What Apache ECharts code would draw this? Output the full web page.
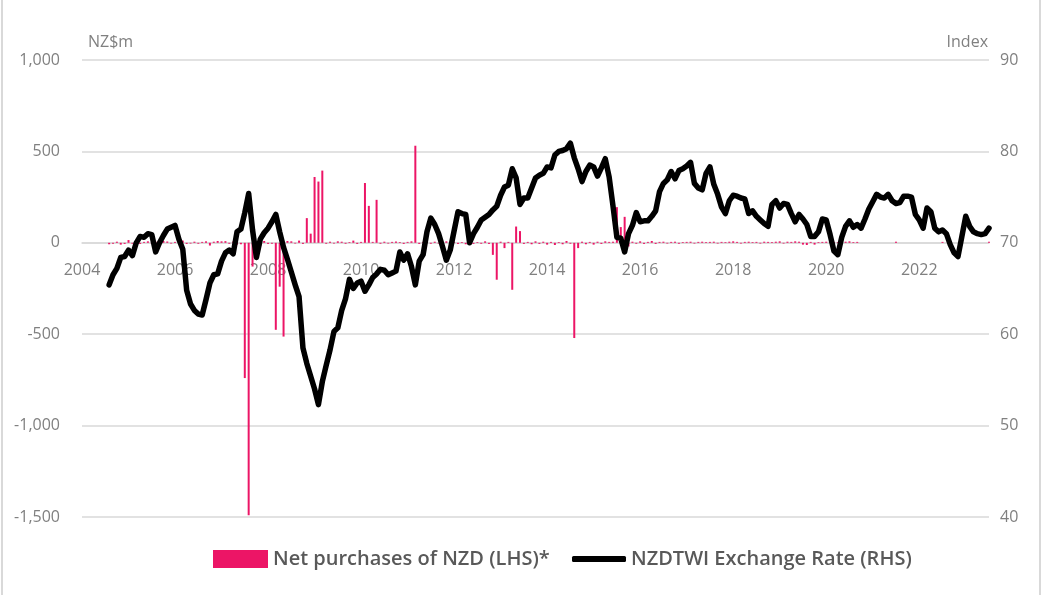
<!DOCTYPE html>
<html lang="en">
<head>
    <meta charset="UTF-8">
    <title>NZD intervention and TWI</title>
    <style>
        html, body { margin: 0; padding: 0; background: #fff; }
    </style>
</head>
<body>
<div id="chart1" style="width:1042px; height:595px;"></div>
<script type="text/javascript" src="https://cdn.jsdelivr.net/npm/echarts@6/dist/echarts.min.js"></script>
<script type="text/javascript">
    // months Jan 2004 .. Jul 2023
    var startYear = 2004;
    var months = [];
    for (var i = 0; i < 235; i++) {
        var y = startYear + Math.floor(i / 12);
        var mo = (i % 12) + 1;
        months.push(y + '-' + (mo < 10 ? '0' + mo : mo));
    }

    // net purchases of NZD, NZ$m (LHS)
    var netPurchases = [
        null, null, null, null, null, null, null, -8, -5, 6, -10, -6,      // 2004
        15, -5, 4, -6, 5, 8, -4, 6, -5, 10, 7, -4,                        // 2005
        5, 8, 12, -6, -4, 6, -5, 5, 8, -15, 6, 10,                        // 2006
        8, 9, -5, 7, -10, -8, -740, -1490, -130, -8, -18, 10,             // 2007
        -6, -5, -476, -240, -513, 10, 8, -4, 12, -6, 135, 50,             // 2008
        360, 335, 395, -5, 6, -4, 8, 6, -5, 4, 12, -6,                    // 2009
        5, 327, 202, 5, 235, -5, 6, -4, 5, 7, 4, -6,                      // 2010
        5, 8, 531, -6, 5, 4, -5, 6, -4, 5, 8, -5,                         // 2011
        6, -6, 4, -8, 5, -6, 4, -5, 8, -6, -66, -202,                     // 2012
        6, -29, 5, -257, 89, 64, -6, 5, -8, 8, -6, 6,                     // 2013
        -10, 5, -12, 4, -8, 10, -5, -521, -29, 6, -8, 5,                  // 2014
        -10, 6, -6, 8, 5, 6, 195, 86, 142, -20, 6, -5,                    // 2015
        8, -6, 5, 10, -6, 5, 6, -4, 5, 6, -5, 4,                          // 2016
        5, 6, -4, 5, 6, 4, 5, 6, -4, 5, 4, 6,                             // 2017
        8, 5, -4, 5, 6, 4, 5, -4, 6, 5, 4, 6,                             // 2018
        8, -4, 6, 5, 8, 6, -10, -12, 5, -10, 4, 5,                        // 2019
        6, 10, 5, 4, 5, 6, 8, 4, 5, 0, 0, 0,                              // 2020
        0, 0, 0, 0, 0, 0, 6, 0, 0, 0, 0, 0,                               // 2021
        0, 0, 0, 0, 0, 0, 5, 0, 0, 0, 0, 0,                               // 2022
        0, 0, 0, 0, 0, 0, 6                                               // 2023
    ];

    // NZDTWI exchange rate index (RHS)
    var twi = [
        null, null, null, null, null, null, null, 65.4, 66.5, 67.2, 68.4, 68.5,
        69.2, 68.6, 70.0, 70.7, 70.6, 71.0, 70.9, 69.0, 70.0, 70.8, 71.5, 71.7,
        71.9, 70.4, 69.3, 64.8, 63.3, 62.6, 62.2, 62.1, 63.8, 65.6, 66.5, 66.6,
        68.0, 68.9, 69.2, 68.8, 71.2, 71.5, 73.3, 75.4, 71.4, 68.4, 70.4, 71.1,
        71.6, 72.3, 73.1, 71.2, 69.5, 68.2, 66.8, 65.4, 64.1, 58.5, 56.8, 55.4,
        54.0, 52.3, 54.8, 56.6, 58.3, 60.3, 60.7, 62.6, 63.9, 66.0, 65.0, 65.6,
        65.8, 64.7, 65.4, 66.2, 66.6, 67.1, 67.0, 66.5, 66.7, 66.9, 69.0, 68.1,
        68.8, 67.4, 65.4, 68.0, 68.7, 71.2, 72.7, 72.0, 71.0, 69.6, 68.1, 69.2,
        71.3, 73.4, 73.2, 73.1, 70.0, 71.0, 71.7, 72.5, 72.8, 73.1, 73.6, 74.0,
        75.2, 76.1, 76.3, 78.1, 77.1, 74.2, 74.9, 74.9, 76.0, 77.1, 77.4, 77.6,
        78.3, 78.2, 79.6, 80.0, 80.1, 80.3, 80.9, 79.3, 78.1, 76.7, 77.8, 78.5,
        78.3, 77.3, 78.2, 79.2, 77.2, 74.0, 70.6, 70.5, 69.0, 71.0, 71.9, 73.3,
        72.3, 72.4, 72.4, 72.9, 73.5, 75.6, 76.5, 76.9, 77.8, 77.0, 77.9, 78.1,
        78.4, 78.8, 76.5, 76.0, 75.8, 77.6, 78.3, 76.4, 75.3, 73.9, 73.2, 74.6,
        75.2, 75.1, 74.9, 74.8, 73.2, 73.5, 72.9, 72.5, 72.1, 71.8, 74.2, 74.6,
        73.8, 74.3, 74.2, 73.2, 72.3, 73.1, 72.6, 72.0, 70.7, 70.7, 71.2, 72.6,
        72.5, 70.9, 69.1, 68.7, 70.6, 71.8, 72.4, 71.7, 72.0, 71.6, 72.6, 73.7,
        74.5, 75.3, 75.0, 74.9, 75.3, 74.6, 74.3, 74.4, 75.1, 75.1, 75.0, 73.1,
        72.5, 71.6, 73.8, 73.4, 71.6, 71.2, 71.4, 71.0, 69.8, 68.9, 68.5, 70.7,
        72.9, 71.8, 71.2, 71.0, 70.9, 71.0, 71.6
    ];

    var pink = '#EC1566';
    var grey = '#808080';
    var gridGrey = '#d9d9d9';
    var font = '"Open Sans", "Noto Sans", sans-serif';
    var legendText = { color: '#595959', fontSize: 20, fontWeight: 600, fontFamily: font };

    // plot area: top 60, height 457; zero of the left axis sits 1000/2500 of the way down
    var gridTop = 60, gridHeight = 457;
    var zeroOffset = -(gridHeight * 1500 / 2500);

    var option = {
        animation: false,
        textStyle: { fontFamily: font },
        grid: { left: 82, right: 53, top: gridTop, height: gridHeight },
        legend: [
            {
                left: 213,
                top: 549,
                padding: 0,
                itemWidth: 55,
                itemHeight: 18,
                textStyle: legendText,
                data: [{ name: 'Net purchases of NZD (LHS)*', icon: 'rect' }]
            },
            {
                left: 572,
                top: 549,
                padding: 0,
                itemWidth: 54,
                itemHeight: 6,
                textStyle: legendText,
                data: [{ name: 'NZDTWI Exchange Rate (RHS)', icon: 'roundRect' }]
            }
        ],
        graphic: [
            { type: 'line', shape: { x1: 2, y1: 0, x2: 2, y2: 595 }, style: { stroke: gridGrey, lineWidth: 2 } },
            { type: 'line', shape: { x1: 1040, y1: 0, x2: 1040, y2: 595 }, style: { stroke: gridGrey, lineWidth: 2 } },
            { type: 'text', left: 88, top: 34, style: { text: 'NZ$m', fill: grey, font: '16px ' + font } },
            { type: 'text', right: 54, top: 34, style: { text: 'Index', fill: grey, font: '16px ' + font } }
        ],
        xAxis: {
            type: 'category',
            data: months,
            boundaryGap: false,
            offset: zeroOffset,
            axisLine: { onZero: false, lineStyle: { color: gridGrey, width: 1.5 } },
            axisTick: { show: false },
            axisLabel: {
                interval: 23,
                margin: 20,
                color: grey,
                fontSize: 16,
                fontFamily: font,
                formatter: function (v) { return v.slice(0, 4); }
            },
            splitLine: { show: false }
        },
        yAxis: [
            {
                type: 'value',
                min: -1500,
                max: 1000,
                interval: 500,
                axisLine: { show: false },
                axisTick: { show: false },
                axisLabel: {
                    margin: 22,
                    color: grey,
                    fontSize: 16,
                    fontFamily: font,
                    formatter: function (v) { return v.toLocaleString('en-US'); }
                },
                splitLine: { lineStyle: { color: gridGrey, width: 1.5 } }
            },
            {
                type: 'value',
                min: 40,
                max: 90,
                interval: 10,
                position: 'right',
                axisLine: { show: false },
                axisTick: { show: false },
                axisLabel: { margin: 11, color: grey, fontSize: 16, fontFamily: font },
                splitLine: { show: false }
            }
        ],
        series: [
            {
                name: 'Net purchases of NZD (LHS)*',
                type: 'bar',
                yAxisIndex: 0,
                barWidth: 2,
                itemStyle: { color: pink },
                data: netPurchases,
                z: 2
            },
            {
                name: 'NZDTWI Exchange Rate (RHS)',
                type: 'line',
                yAxisIndex: 1,
                showSymbol: false,
                symbol: 'none',
                lineStyle: { color: '#000', width: 5.5, join: 'round', cap: 'round' },
                itemStyle: { color: '#000' },
                data: twi,
                z: 3
            }
        ]
    };

    var myChart = echarts.init(document.getElementById('chart1'));
    myChart.setOption(option);
</script>
</body>
</html>
